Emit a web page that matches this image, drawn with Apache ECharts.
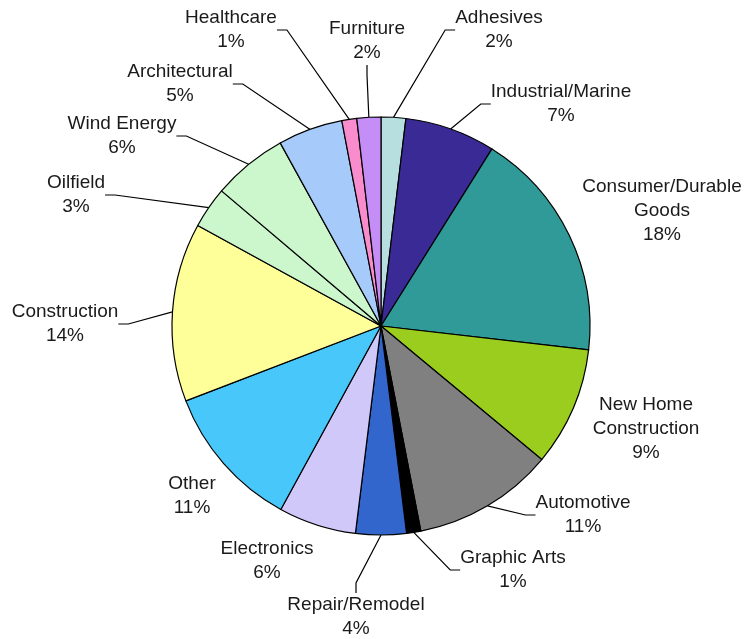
<!DOCTYPE html>
<html>
<head>
<meta charset="utf-8">
<script src="https://cdn.jsdelivr.net/npm/echarts@6/dist/echarts.min.js"></script>
<style>
  html, body { margin: 0; padding: 0; background: #fff; }
  #chart { width: 745px; height: 639px; }
</style>
</head>
<body>
<div id="chart"></div>
<script>
// slices, clockwise from 12 o'clock
const categories = [
  'Adhesives', 'Industrial/Marine', 'Consumer/Durable\nGoods', 'New Home\nConstruction',
  'Automotive', 'Graphic Arts', 'Repair/Remodel', 'Electronics', 'Other',
  'Construction', 'Oilfield', 'Wind Energy', 'Architectural', 'Healthcare', 'Furniture'
];
const shares = [1.9, 7.0, 17.9, 9.2, 10.9, 1.1, 3.9, 6.0, 11.2, 13.8, 3.2, 5.8, 5.0, 1.15, 1.85];

const colors = [
  '#b7dfe0', '#3a2a96', '#2f9a98', '#9acd1e', '#808080', '#000000', '#3366cc',
  '#cfc8f8', '#47c7fa', '#ffff99', '#ccf7cc', '#ccf7cc', '#a6cbfa', '#f98ccc', '#c58ef7'
];

// label block centres (Excel-style placement)
const labelPos = [
  [499, 30], [561, 104], [662, 211], [646, 429], [583, 515], [513, 570], [356, 617],
  [267, 561], [192, 496], [65, 324], [76, 195], [122, 136], [180, 84], [231, 30], [367, 41]
];
const noLine = ['Consumer/Durable\nGoods', 'New Home\nConstruction', 'Electronics', 'Other'];

const chart = echarts.init(document.getElementById('chart'), null, { renderer: 'canvas' });

const option = {
  backgroundColor: '#fff',
  animation: false,
  series: [
    {
      type: 'pie',
      center: [381, 326],
      radius: [0, 209],
      startAngle: 90,
      clockwise: true,
      minAngle: 0,
      avoidLabelOverlap: false,
      itemStyle: {
        borderColor: '#000',
        borderWidth: 1.2
      },
      label: {
        show: true,
        position: 'outside',
        fontFamily: 'Liberation Sans, Arial, sans-serif',
        fontSize: 19,
        lineHeight: 24,
        color: '#1a1a1a',
        align: 'center',
        formatter: (p) => p.name + '\n' + Math.round(p.percent) + '%'
      },
      labelLine: {
        show: true,
        length: 10,
        length2: 10,
        lineStyle: { color: '#000', width: 1.2 }
      },
      labelLayout: (params) => {
        const p = labelPos[params.dataIndex];
        return { x: p[0], y: p[1], align: 'center', verticalAlign: 'middle', hideOverlap: false };
      },
      data: categories.map((name, i) => ({
        name: name,
        value: shares[i],
        itemStyle: { color: colors[i] },
        labelLine: { show: noLine.indexOf(name) < 0 }
      }))
    }
  ]
};

chart.setOption(option);
</script>
</body>
</html>
